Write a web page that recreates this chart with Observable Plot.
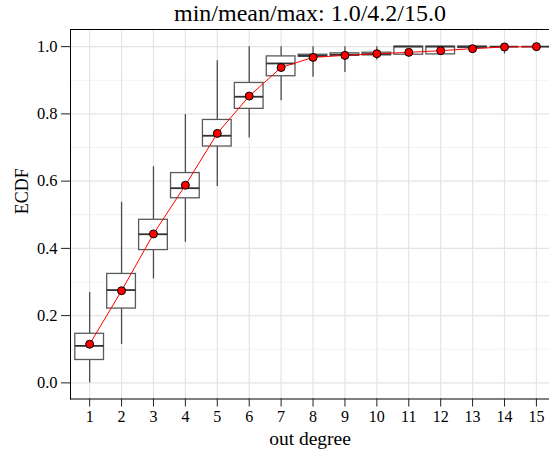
<!DOCTYPE html>
<html><head><meta charset="utf-8">
<script src="https://cdn.jsdelivr.net/npm/d3@7"></script>
<script src="https://cdn.jsdelivr.net/npm/@observablehq/plot@0.6"></script>
<style>
body{margin:0;background:#fff}
#chart svg{font-family:"Liberation Serif","DejaVu Serif",serif;}
</style>
</head><body><div id="chart"></div>
<script>
const degrees     = [1,2,3,4,5,6,7,8,9,10,11,12,13,14,15];
const means       = [0.115,0.274,0.443,0.588,0.742,0.853,0.938,0.968,0.974,0.979,0.983,0.988,0.994,0.999,1.000];
const q1          = [0.068,0.221,0.395,0.549,0.703,0.815,0.912,0.970,0.973,0.974,0.976,0.977,0.996,1.000,1.000];
const medians     = [0.110,0.276,0.442,0.579,0.735,0.851,0.950,0.973,0.976,0.978,1.000,1.000,1.000,1.000,1.000];
const q3          = [0.146,0.324,0.485,0.624,0.782,0.892,0.971,0.976,0.980,0.982,1.000,1.000,1.000,1.000,1.000];
const whiskerLow  = [0.000,0.114,0.309,0.418,0.584,0.728,0.839,0.909,0.923,0.960,0.970,0.977,0.985,0.978,1.000];
const whiskerHigh = [0.269,0.537,0.643,0.798,0.958,1.000,1.000,1.000,1.000,1.000,1.000,1.000,1.000,1.000,1.000];
const yTicks      = [0,0.2,0.4,0.6,0.8,1.0];
const yMinor      = [0.1,0.3,0.5,0.7,0.9];
const titleText   = "min/mean/max: 1.0/4.2/15.0";
const xLabel      = "out degree";
const yLabel      = "ECDF";

const data = degrees.map((x,i)=>({x, mean:means[i], q1:q1[i], med:medians[i], q3:q3[i], lo:whiskerLow[i], hi:whiskerHigh[i]}));
const halfW = 0.45;

const chart = Plot.plot({
  width: 549, height: 452,
  marginLeft: 70, marginRight: 0, marginTop: 29, marginBottom: 53.5,
  x: {type:"linear", domain:[0.4, 15.41]},
  y: {domain:[-0.048, 1.051]},
  marks: [
    Plot.ruleY(yMinor, {stroke:"#f2f2f2", strokeWidth:1.2}),
    Plot.ruleY(yTicks, {stroke:"#e4e4e4", strokeWidth:1.2}),
    Plot.ruleX(degrees, {stroke:"#e4e4e4", strokeWidth:1.2}),
    Plot.ruleX(data, {x:"x", y1:"lo", y2:"q1", stroke:"#4d4d4d", strokeWidth:1.3}),
    Plot.ruleX(data, {x:"x", y1:"q3", y2:"hi", stroke:"#4d4d4d", strokeWidth:1.3}),
    Plot.rect(data, {x1:d=>d.x-halfW, x2:d=>d.x+halfW, y1:"q1", y2:"q3", fill:"white", stroke:"#5a5a5a", strokeWidth:1.3}),
    Plot.ruleY(data, {y:"med", x1:d=>d.x-halfW, x2:d=>d.x+halfW, stroke:"#333", strokeWidth:1.8}),
    Plot.line(data, {x:"x", y:"mean", stroke:"red", strokeWidth:1}),
    Plot.dot(data, {x:"x", y:"mean", r:4, fill:"red", stroke:"black", strokeWidth:1}),
    Plot.frame({anchor:"left", stroke:"black"}),
    Plot.frame({anchor:"top", stroke:"black"}),
    Plot.frame({anchor:"bottom", stroke:"black"}),
    Plot.axisX({ticks:degrees, tickSize:8, tickPadding:4, fontSize:16, label:null, tickFormat:d=>String(d), stroke:"#222", fill:"black"}),
    Plot.axisY({ticks:yTicks, tickSize:9, tickPadding:4, fontSize:16.5, label:null, tickFormat:d3.format(".1f"), stroke:"#222", fill:"black"}),
    Plot.text([titleText], {frameAnchor:"top", lineAnchor:"middle", dy:-16, fontSize:24, fill:"black"}),
    Plot.text([xLabel], {frameAnchor:"bottom", lineAnchor:"middle", dy:40, fontSize:19.5, fill:"black"}),
    Plot.text([yLabel], {frameAnchor:"left", lineAnchor:"middle", dx:-48, rotate:-90, fontSize:18, fill:"black"})
  ]
});
document.getElementById("chart").appendChild(chart);
</script>
</body></html>
